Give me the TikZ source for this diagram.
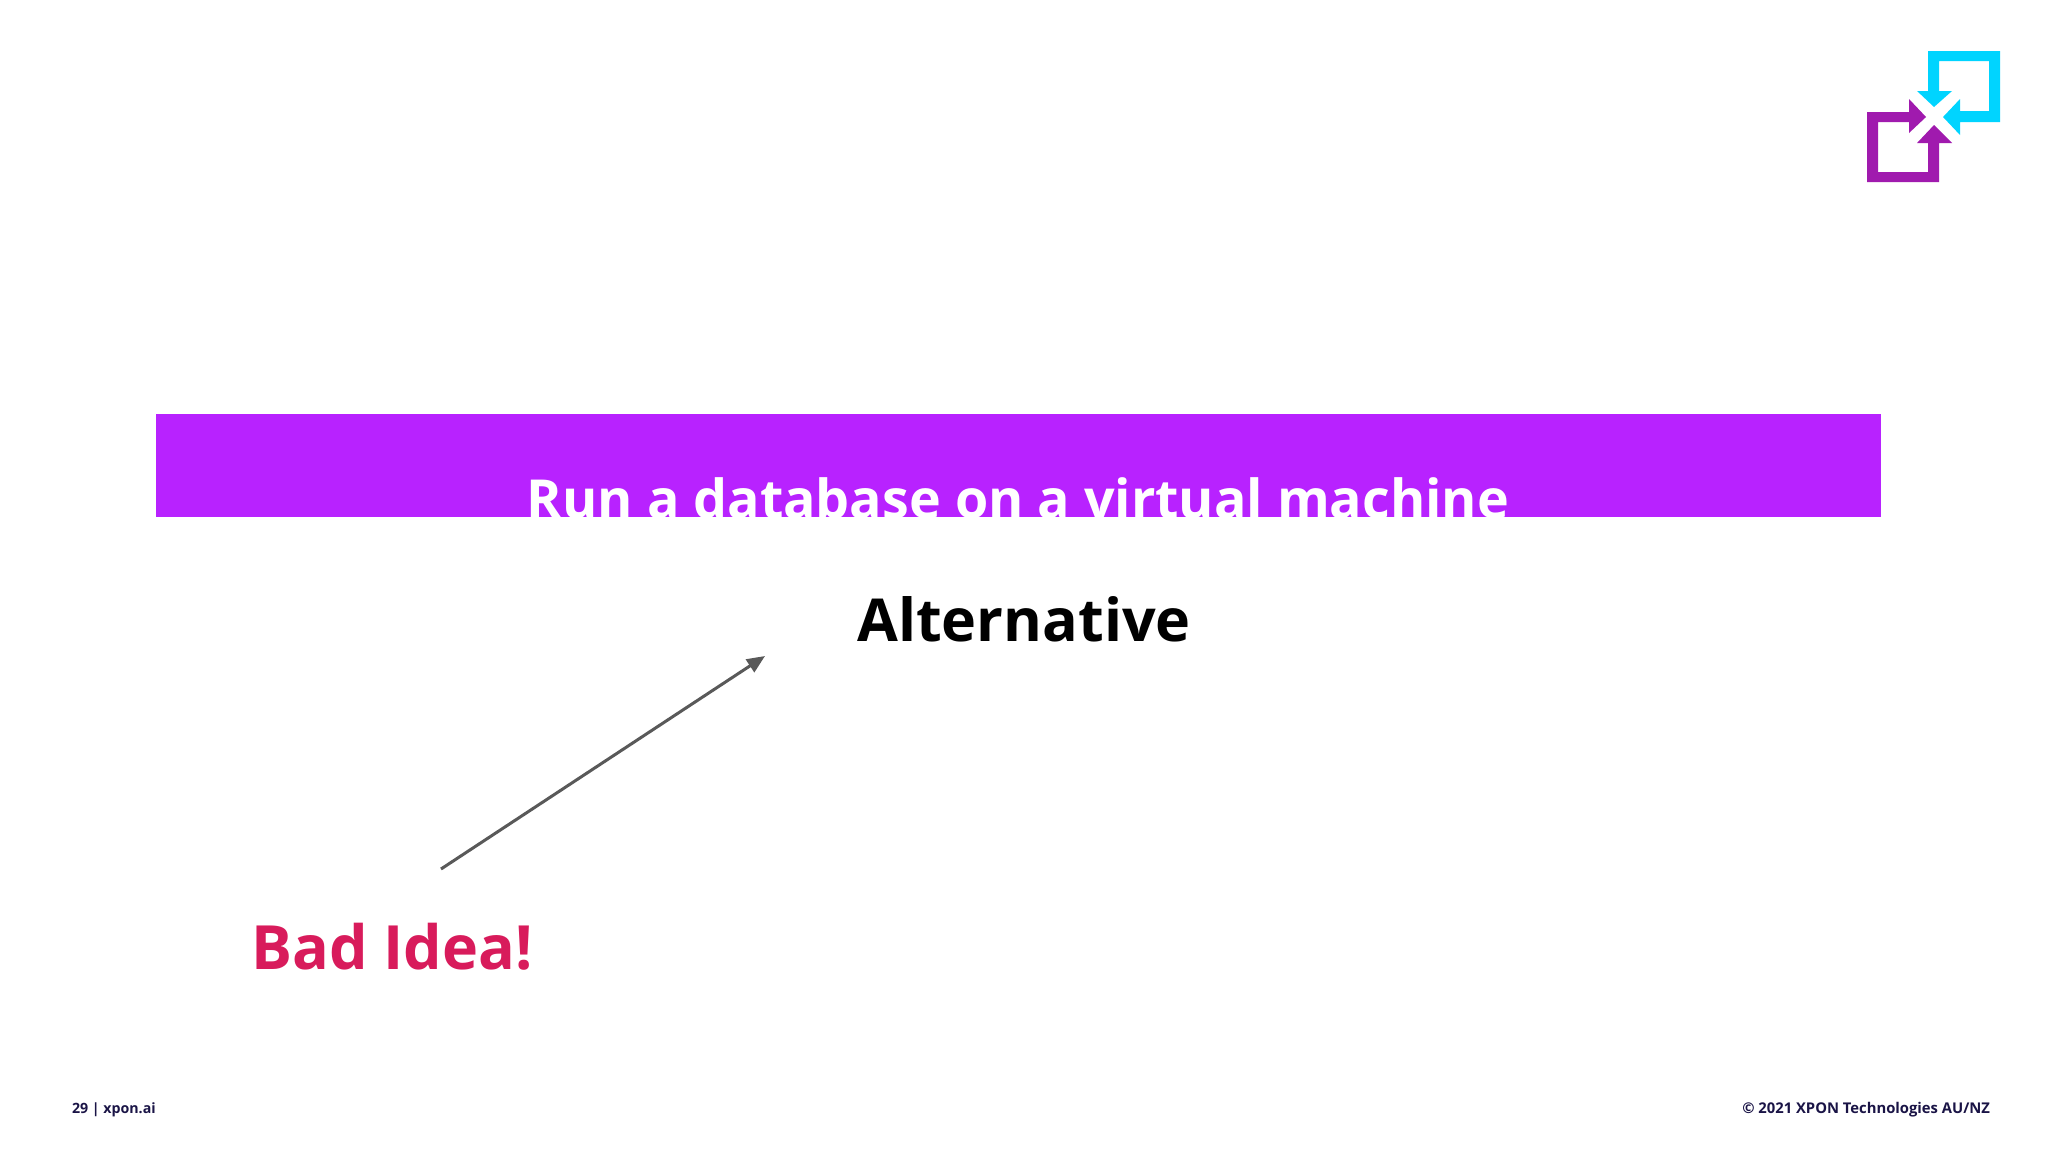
\documentclass[tikz,border=0pt]{standalone}
\usepackage{fontspec}
\setmainfont{Open Sans}
\usetikzlibrary{arrows.meta}
\definecolor{bandc}{HTML}{B822FF}
\definecolor{redc}{HTML}{D81B5B}
\definecolor{navyc}{HTML}{1A1446}
\definecolor{cyanc}{HTML}{00D4FF}
\definecolor{purplec}{HTML}{A01AAE}
\definecolor{arrowc}{HTML}{595959}
\tikzset{
  px/.style={x=0.5pt,y=-0.5pt},
  lbl/.style={inner sep=0pt,outer sep=0pt,font=\bfseries},
  foot/.style={inner sep=0pt,outer sep=0pt,text=navyc},
  link/.style={draw=arrowc,line width=1.5pt,-{Triangle[length=9pt,width=7.5pt]}}
}
\begin{document}
\begin{tikzpicture}[px]
\useasboundingbox (0,0) rectangle (2048,1152);
\fill[white] (0,0) rectangle (2048,1152);
% band, its title clipped at the lower edge
\fill[bandc] (155.5,414) rectangle (1881,517);
\begin{scope}
\clip (155.5,414) rectangle (1881,517);
\node[lbl,anchor=base,text=white,font=\fontsize{26.9pt}{30pt}\selectfont\bfseries] (title) at (1018,518) {Run a database on a virtual machine};
\end{scope}
\node[lbl,anchor=base,font=\fontsize{29.6pt}{36pt}\selectfont\bfseries] (alt) at (1024,641) {Alternative};
\node[lbl,anchor=base,text=redc,font=\fontsize{30.5pt}{36pt}\selectfont\bfseries] (bad) at (392,969) {Bad Idea!};
\coordinate (from) at (441,869);
\coordinate (to) at (765,656);
\draw[link] (from) -- (to);
\node[foot,anchor=base west,font=\fontsize{7.1pt}{9pt}\selectfont\bfseries] (page) at (72,1113) {29 | xpon.ai};
\node[foot,anchor=base east,font=\fontsize{7.4pt}{9pt}\selectfont\bfseries] (copy) at (1990,1113) {© 2021 XPON Technologies AU/NZ};
% logo
\fill[cyanc]
  (1928,51) -- (2000,51) -- (2000,122) -- (1960,122) -- (1960,135) -- (1943,117) -- (1960,99) -- (1960,111)
  -- (1989,111) -- (1989,61) -- (1939,61) -- (1939,91) -- (1952,91) -- (1934,107) -- (1917,91) -- (1928,91) -- cycle;
\fill[purplec]
  (1867,112) -- (1909,112) -- (1909,99) -- (1926,117) -- (1909,133) -- (1909,122)
  -- (1878,122) -- (1878,172) -- (1928,172) -- (1928,143) -- (1917,143) -- (1934,125) -- (1952,143) -- (1939,143)
  -- (1939,182) -- (1867,182) -- cycle;
\end{tikzpicture}
\end{document}
